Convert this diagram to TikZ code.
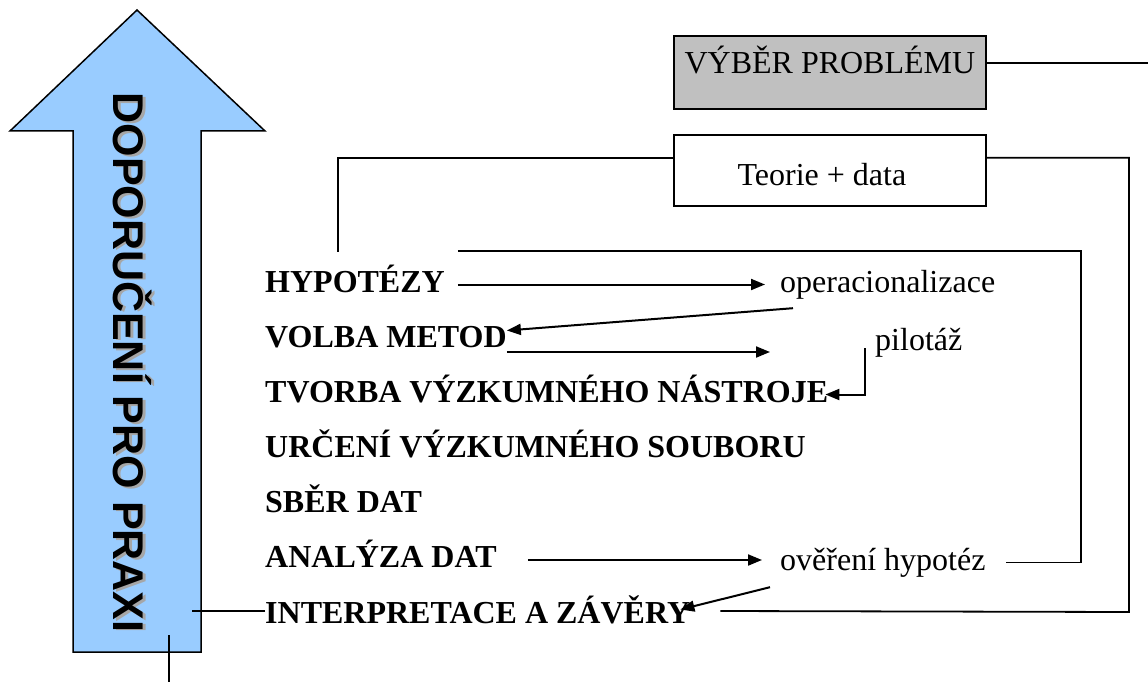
\documentclass[tikz,border=0pt]{standalone}
\usepackage{fontspec}
\setmainfont{Liberation Serif}
\newfontfamily\arrowfont{Liberation Sans}
\usepackage{tikz}
\usetikzlibrary{arrows.meta, positioning, calc}

\definecolor{arrowblue}{HTML}{99CCFF}
\definecolor{boxgray}{HTML}{C0C0C0}

\begin{document}
\begin{tikzpicture}[
    x=1pt, y=-1pt,
    stage/.style={font=\fontsize{32}{36}\selectfont\bfseries, anchor=base west, inner sep=0pt, text height=15pt, text depth=0pt},
    note/.style={font=\fontsize{32}{36}\selectfont, anchor=base west, inner sep=0pt, text height=15pt, text depth=0pt},
    box/.style={draw, line width=1.8pt, minimum width=312pt, inner sep=0pt, anchor=north west, font=\fontsize{32}{36}\selectfont},
    praxe/.style={font=\arrowfont\fontsize{43}{48}\selectfont\bfseries, rotate=-90, inner sep=0pt},
    line/.style={line width=1.8pt},
    arrow/.style={->, >={Triangle[length=14pt,width=11pt]}, line width=2pt}
]
\useasboundingbox (0,0) rectangle (1148,682);

% Big arrow
\draw[line width=1.5pt, fill=arrowblue] (137,10) -- (265,131) -- (201,131) -- (201,652) -- (73,652) -- (73,131) -- (10,131) -- cycle;
\node[praxe, text=black!35] at (135.5,364) {DOPORUČENÍ PRO PRAXI};
\node[praxe] (praxe) at (133,362.5) {DOPORUČENÍ PRO PRAXI};

% Boxes
\node[box, fill=boxgray, text height=38pt, text depth=35pt] (vyber) at (673,35) {VÝBĚR PROBLÉMU};
\node[box, text height=51pt, text depth=20pt, below=24pt of vyber.south west, anchor=north west] (teorie) {Teorie + data\hspace*{16pt}};

% Stages
\node[stage] (hyp) at (265,292) {HYPOTÉZY};
\node[stage, below=55pt of hyp.base west, anchor=base west] (volba) {VOLBA METOD};
\node[stage, below=55pt of volba.base west, anchor=base west] (tvorba) {TVORBA VÝZKUMNÉHO NÁSTROJE};
\node[stage, below=55pt of tvorba.base west, anchor=base west] (urceni) {URČENÍ VÝZKUMNÉHO SOUBORU};
\node[stage, below=55pt of urceni.base west, anchor=base west] (sber) {SBĚR DAT};
\node[stage, below=55.5pt of sber.base west, anchor=base west] (analyza) {ANALÝZA DAT};
\node[stage, below=55.5pt of analyza.base west, anchor=base west] (interp) {INTERPRETACE A ZÁVĚRY};

% Side notes
\node[note] (oper) at (780,292) {operacionalizace};
\node[note] (pilot) at (875,350) {pilotáž};
\node[note] (overeni) at (780,570) {ověření hypotéz};

% Corners and free ends
\coordinate (edge) at (1148,0);
\coordinate (outer) at (1129,612);
\coordinate (inner) at (1081,562.5);
\coordinate (shaft) at (192,0);
\coordinate (tailtop) at (169,635);
\coordinate (tailend) at (169,682);

% Arrows
\draw[arrow] ([xshift=13pt]hyp.east) -- ([xshift=-15pt]oper.west);
\draw[arrow] ([shift={(13,16)}]oper.south west) -- ([yshift=9pt]volba.east);
\draw[arrow] ([yshift=-12.5pt]volba.east) -- ([shift={(-10,12.5)}]volba.east -| oper.west);
\draw[arrow] ([shift={(-10,-2)}]pilot.south west) |- ([xshift=-3pt]tvorba.east);
\draw[arrow] ([xshift=31pt]analyza.east) -- ([xshift=-18pt]analyza.east -| overeni.west);
\draw[arrow] ([shift={(-10,17)}]overeni.south west) -- ([shift={(-10,-6)}]interp.east);

% Lines
\draw[line] ([yshift=9.5pt]vyber.east) -- ([yshift=9.5pt]vyber.east -| edge);
\draw[line] ([shift={(73,-25)}]hyp.north west) |- ([yshift=12.5pt]teorie.west);
\draw[line] ([yshift=12.5pt]teorie.east) -| (outer) -- ([shift={(30,-4.5)}]interp.east);
\draw[line] ([shift={(13,-26)}]hyp.north east) -| (inner) -- ([xshift=20pt]overeni.east);
\draw[line] ([yshift=4.5pt]interp.west) -- ([yshift=4.5pt]interp.west -| shaft);
\draw[line] (tailtop) -- (tailend);

\end{tikzpicture}
\end{document}
